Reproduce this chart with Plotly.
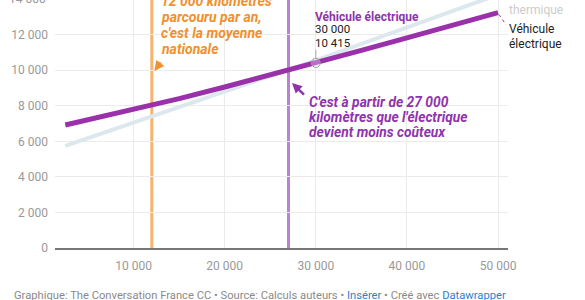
import plotly.graph_objects as go

# ---- data ----
km = [2500, 5000, 10000, 15000, 20000, 25000, 30000, 35000, 40000, 45000, 50000]
cout_electrique = [6920, 7210, 7770, 8400, 9060, 9730, 10415, 11120, 11825, 12530, 13240]
cout_thermique = [5740, 6175, 7045, 7915, 8785, 9655, 10555, 11480, 12405, 13330, 14255]
x_ticks = [10000, 20000, 30000, 40000, 50000]
y_ticks = [0, 2000, 4000, 6000, 8000, 10000, 12000, 14000]
km_moyenne = 12000
km_seuil = 27000
hover_km = 30000
hover_val = 10415

# ---- geometry helpers ----
W, H = 585, 300
X0PX, XS = 42.5, 91.05 / 10000
Y0PX, YS = 248.0, 35.55 / 2000
PL, PR = 55.0, 507.7

def dx(px):
    return (px - X0PX) / XS
def dy(py):
    return (Y0PX - py) / YS
def pxv(v):
    return X0PX + v * XS
def pyv(v):
    return Y0PX - v * YS
def xp(px):
    return (px - PL) / (PR - PL)
def yp(py):
    return (Y0PX - py) / Y0PX

FONT = "Roboto"
PURPLE = "#9a31aa"
PURPLE_TXT = "#9033ad"
ORANGE_TXT = "#f0902e"
LIGHTBLUE = "#dce8ee"

fig = go.Figure()
fig.add_trace(go.Scatter(x=km, y=cout_thermique, mode="lines",
                         line=dict(color=LIGHTBLUE, width=4), hoverinfo="skip"))
fig.add_trace(go.Scatter(x=km, y=cout_electrique, mode="lines",
                         line=dict(color=PURPLE, width=5), hoverinfo="skip"))
fig.add_trace(go.Scatter(x=[hover_km], y=[hover_val], mode="markers",
                         marker=dict(size=9, color="rgba(255,255,255,0.3)",
                                     line=dict(color="#9a9a9a", width=1)),
                         hoverinfo="skip"))

end_px = pxv(km[-1])
end_py = pyv(cout_electrique[-1])
shapes = [
    dict(type="line", xref="x", yref="paper", x0=km_moyenne, x1=km_moyenne, y0=0, y1=1,
         line=dict(color="#f5b36f", width=3), layer="between"),
    dict(type="line", xref="x", yref="paper", x0=km_seuil, x1=km_seuil, y0=0, y1=1,
         line=dict(color="#b982d2", width=3), layer="between"),
    dict(type="line", xref="x", yref="y", x0=hover_km, x1=hover_km,
         y0=hover_val + 4 / YS, y1=hover_val + 13 / YS,
         line=dict(color="#aaaaaa", width=1)),
    dict(type="line", xref="paper", yref="paper", x0=xp(end_px + 1), x1=xp(end_px + 8),
         y0=yp(end_py + 2), y1=yp(end_py + 12),
         line=dict(color=PURPLE, width=1, dash="dot")),
]

ann = []
def txt(px, py, t, size=13, color="#333", bold=False, italic=False, xanchor="left", yanchor="middle"):
    s = t
    if bold:
        s = "<b>" + s + "</b>"
    if italic:
        s = "<i>" + s + "</i>"
    ann.append(dict(x=xp(px), y=yp(py), xref="paper", yref="paper", text=s, showarrow=False,
                    xanchor=xanchor, yanchor=yanchor,
                    font=dict(family=FONT, size=size, color=color)))

# orange annotation
orange_lines = ["12 000 kilomètres", "parcouru par an,", "c'est la moyenne", "nationale"]
mx = pxv(km_moyenne)
for i, l in enumerate(orange_lines):
    txt(mx + 7, 0.5 + 16 * i, l, size=14, color=ORANGE_TXT, bold=True, italic=True)
# purple annotation
sx = pxv(km_seuil)
purple_lines = ["C'est à partir de 27 000", "kilomètres que l'électrique", "devient moins coûteux"]
for i, l in enumerate(purple_lines):
    txt(sx + 18, 101.5 + 15 * i, l, size=13.8, color=PURPLE_TXT, bold=True, italic=True)

# arrows
ann.append(dict(x=xp(mx + 2.5), y=yp(71), ax=7.5, ay=-10,
                xref="paper", yref="paper", axref="pixel", ayref="pixel", text="", showarrow=True,
                arrowhead=2, arrowsize=0.8, arrowwidth=2.5, arrowcolor=ORANGE_TXT))
ann.append(dict(x=xp(sx + 3.5), y=yp(83), ax=13.5, ay=13,
                xref="paper", yref="paper", axref="pixel", ayref="pixel", text="", showarrow=True,
                arrowhead=2, arrowsize=0.8, arrowwidth=2.5, arrowcolor=PURPLE_TXT))

# tooltip text
hx = pxv(hover_km)
txt(hx - 3, 16.5, "Véhicule électrique", size=12, color=PURPLE_TXT, bold=True)
txt(hx - 3, 29.5, "30 000", size=11.5, color="#222")
txt(hx - 3, 42.5, "10 415", size=11.5, color="#222")

# line end labels
txt(end_px + 9, -6.5, "Véhicule", size=12, color="#cccccc")
txt(end_px + 9, 10, "thermique", size=12, color="#cccccc")
txt(end_px + 9, 29.5, "Véhicule", size=12, color="#222")
txt(end_px + 9, 43.5, "électrique", size=12, color="#222")

# partially visible 14 000 tick label
txt(48.5, pyv(14000), "14 000", size=12, color="#999999", xanchor="right")

# footer
ann.append(dict(x=xp(12), y=yp(295), xref="paper", yref="paper", showarrow=False,
                xanchor="left", yanchor="middle",
                text=("Graphique: The Conversation France CC • Source: Calculs auteurs • "
                      "<span style='color:#2f7fcf'>Insérer</span> • Créé avec "
                      "<span style='color:#2f7fcf'>Datawrapper</span>"),
                font=dict(family=FONT, size=11.2, color="#8a8a8a")))

fig.update_layout(
    width=W, height=H,
    margin=dict(l=PL, r=W - PR, t=0, b=H - Y0PX, autoexpand=False),
    paper_bgcolor="white", plot_bgcolor="white",
    showlegend=False,
    separators=", ",
    shapes=shapes, annotations=ann,
    font=dict(family=FONT),
    xaxis=dict(range=[dx(PL), dx(PR)], tickvals=x_ticks, tickformat=",d",
               showgrid=True, gridcolor="#ebebeb", gridwidth=1,
               showline=True, linecolor="#777777", linewidth=2,
               zeroline=False, ticks="", ticklabelstandoff=6,
               tickfont=dict(family=FONT, size=12, color="#999999")),
    yaxis=dict(range=[0, dy(0)], tickvals=y_ticks, tickformat=",d",
               showgrid=True, gridcolor="#ebebeb", gridwidth=1,
               zeroline=False, showline=False, ticks="", ticklabelstandoff=6,
               tickfont=dict(family=FONT, size=12, color="#999999")),
)

fig.write_html("out.html")
